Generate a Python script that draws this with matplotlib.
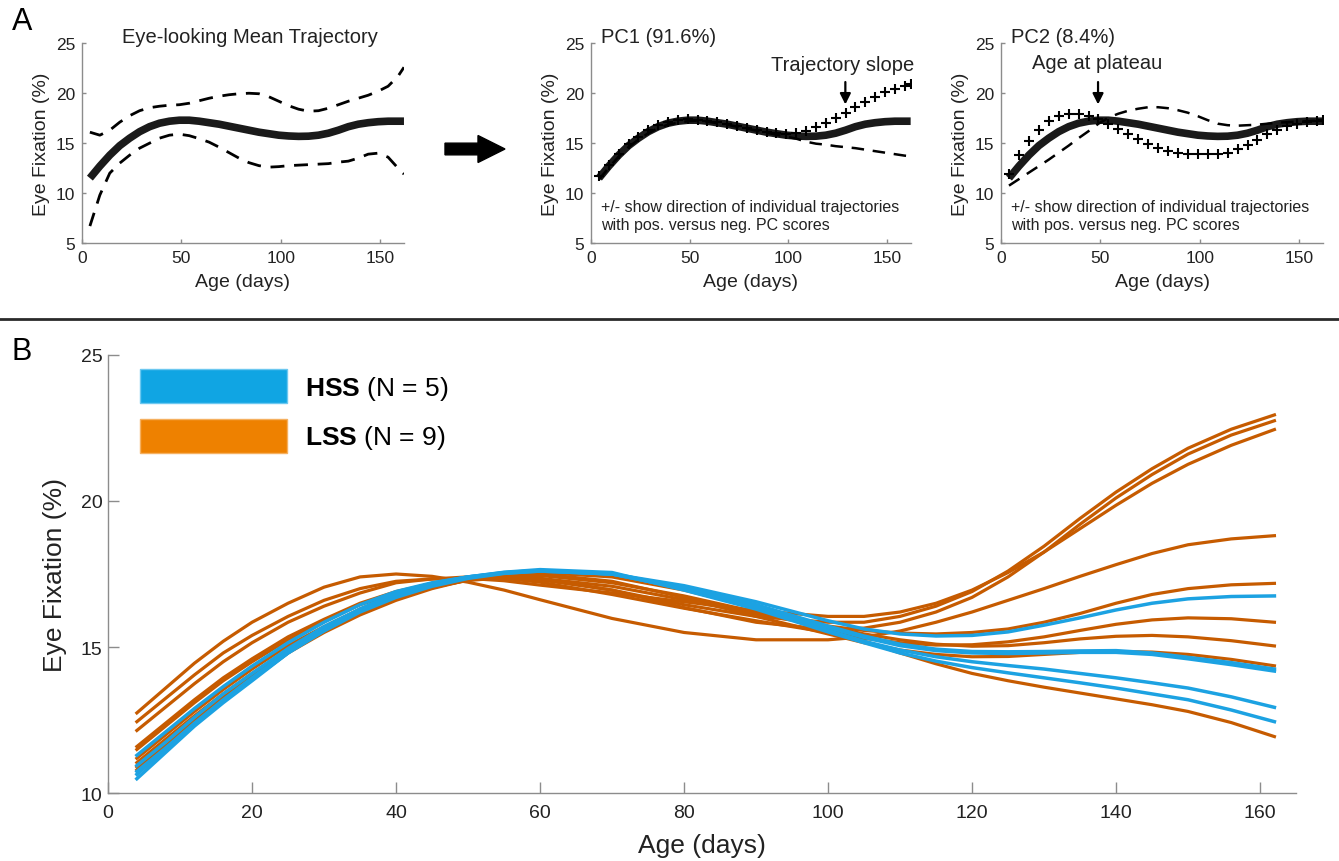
import numpy as np
import matplotlib.pyplot as plt
from matplotlib.patches import Patch, FancyArrow
from matplotlib.lines import Line2D

plt.rcParams['font.family'] = ['Liberation Sans', 'DejaVu Sans']
plt.rcParams['mathtext.fontset'] = 'custom'
plt.rcParams['mathtext.rm'] = 'Liberation Sans'
plt.rcParams['mathtext.bf'] = 'Liberation Sans:bold'

# ---------------- panel A: mean trajectory and PC curves ----------------
age_a = [4, 9, 14, 19, 24, 29, 34, 39, 44, 49, 54, 59, 64, 69, 74, 79, 84,
         89, 94, 99, 104, 109, 114, 119, 124, 129, 134, 139, 144, 149, 154, 159, 162]

mean_traj = [11.5, 12.7, 13.8, 14.75, 15.5, 16.15, 16.65, 17.0, 17.2, 17.3, 17.3,
             17.2, 17.05, 16.9, 16.7, 16.5, 16.3, 16.1, 15.95, 15.8, 15.72, 15.68,
             15.7, 15.8, 16.0, 16.3, 16.65, 16.9, 17.05, 17.15, 17.2, 17.2, 17.2]
upper_ci = [16.1, 15.8, 16.3, 17.1, 17.75, 18.25, 18.55, 18.7, 18.8, 18.85, 19.0,
            19.25, 19.5, 19.7, 19.85, 19.95, 20.0, 19.95, 19.65, 19.2, 18.75, 18.4,
            18.2, 18.25, 18.5, 18.85, 19.2, 19.5, 19.8, 20.2, 20.7, 21.7, 22.6]
lower_ci = [6.7, 9.8, 12.0, 13.0, 13.8, 14.5, 15.0, 15.5, 15.8, 15.9, 15.75,
            15.45, 15.1, 14.6, 14.05, 13.5, 13.05, 12.75, 12.6, 12.65, 12.75, 12.8,
            12.85, 12.9, 12.95, 13.1, 13.2, 13.5, 13.9, 14.0, 13.6, 12.5, 11.9]

pc1_plus = [11.7, 12.85, 13.95, 14.9, 15.65, 16.3, 16.8, 17.15, 17.35, 17.4, 17.35,
            17.25, 17.1, 16.95, 16.75, 16.55, 16.35, 16.15, 16.0, 15.95, 16.0, 16.2,
            16.6, 17.05, 17.55, 18.05, 18.6, 19.15, 19.65, 20.1, 20.45, 20.75, 20.9]
pc1_minus = [11.35, 12.55, 13.65, 14.6, 15.35, 16.0, 16.5, 16.85, 17.05, 17.2, 17.25,
             17.15, 17.0, 16.85, 16.65, 16.45, 16.25, 16.05, 15.85, 15.65, 15.45, 15.15,
             14.95, 14.85, 14.7, 14.6, 14.5, 14.35, 14.2, 14.05, 13.9, 13.75, 13.7]

pc2_plus = [11.9, 13.85, 15.2, 16.3, 17.2, 17.7, 17.9, 17.9, 17.7, 17.4, 16.9,
            16.4, 15.9, 15.4, 14.95, 14.55, 14.25, 14.05, 13.95, 13.9, 13.9, 13.9,
            14.05, 14.4, 14.85, 15.35, 15.9, 16.35, 16.7, 16.95, 17.15, 17.25, 17.3]
pc2_minus = [10.75, 11.4, 12.05, 12.7, 13.35, 14.05, 14.75, 15.5, 16.2, 16.95, 17.55,
             17.95, 18.25, 18.45, 18.6, 18.6, 18.5, 18.3, 18.05, 17.7, 17.3, 16.95,
             16.8, 16.75, 16.8, 16.85, 16.95, 17.05, 17.1, 17.15, 17.2, 17.25, 17.3]

# ---------------- panel B: individual trajectories ----------------
age_b = [4, 8, 12, 16, 20, 25, 30, 35, 40, 45, 50, 55, 60, 70, 80, 90, 100, 105,
         110, 115, 120, 125, 130, 135, 140, 145, 150, 156, 162]

lss_curves = [
    [12.75, 13.6, 14.45, 15.2, 15.85, 16.5, 17.05, 17.4, 17.5, 17.42, 17.22, 16.95,
     16.62, 15.98, 15.5, 15.25, 15.25, 15.35, 15.55, 15.85, 16.2, 16.6, 17.0, 17.42,
     17.82, 18.2, 18.5, 18.7, 18.81],
    [12.45, 13.25, 14.05, 14.8, 15.4, 16.05, 16.6, 17.0, 17.25, 17.33, 17.35, 17.27,
     17.12, 16.85, 16.55, 16.25, 16.05, 16.05, 16.2, 16.5, 16.95, 17.55, 18.25, 19.05,
     19.85, 20.6, 21.25, 21.9, 22.44],
    [12.15, 12.95, 13.75, 14.5, 15.15, 15.85, 16.4, 16.85, 17.2, 17.33, 17.4, 17.35,
     17.22, 16.8, 16.33, 15.9, 15.5, 15.3, 15.15, 15.07, 15.08, 15.18, 15.35, 15.57,
     15.78, 15.93, 16.0, 15.97, 15.85],
    [11.6, 12.4, 13.2, 13.95, 14.6, 15.35, 15.95, 16.5, 16.9, 17.17, 17.35, 17.38,
     17.3, 16.95, 16.45, 16.05, 15.85, 15.85, 16.05, 16.4, 16.9, 17.6, 18.45, 19.4,
     20.3, 21.1, 21.8, 22.45, 22.94],
    [11.5, 12.3, 13.1, 13.85, 14.5, 15.25, 15.9, 16.45, 16.85, 17.12, 17.3, 17.37,
     17.35, 17.08, 16.62, 16.12, 15.72, 15.57, 15.48, 15.45, 15.5, 15.62, 15.85, 16.15,
     16.5, 16.8, 17.0, 17.13, 17.18],
    [11.2, 12.0, 12.8, 13.55, 14.25, 15.05, 15.7, 16.3, 16.75, 17.08, 17.3, 17.42,
     17.45, 17.2, 16.75, 16.2, 15.7, 15.45, 15.25, 15.1, 15.03, 15.05, 15.15, 15.28,
     15.37, 15.4, 15.35, 15.22, 15.04],
    [11.05, 11.85, 12.65, 13.4, 14.1, 14.9, 15.6, 16.2, 16.7, 17.05, 17.28, 17.37,
     17.35, 16.95, 16.35, 15.85, 15.6, 15.65, 15.85, 16.2, 16.7, 17.4, 18.25, 19.2,
     20.1, 20.9, 21.6, 22.25, 22.74],
    [10.9, 11.7, 12.5, 13.3, 14.0, 14.85, 15.55, 16.15, 16.65, 17.03, 17.3, 17.45,
     17.5, 17.25, 16.7, 16.05, 15.45, 15.15, 14.9, 14.75, 14.67, 14.68, 14.75, 14.82,
     14.85, 14.83, 14.75, 14.58, 14.36],
    [10.8, 11.6, 12.4, 13.2, 13.9, 14.8, 15.5, 16.1, 16.6, 17.0, 17.3, 17.48,
     17.55, 17.4, 16.95, 16.35, 15.6, 15.2, 14.8, 14.43, 14.1, 13.85, 13.63, 13.43,
     13.23, 13.03, 12.8, 12.42, 11.94],
]
hss_curves = [
    [11.3, 12.1, 12.9, 13.65, 14.35, 15.15, 15.85, 16.45, 16.9, 17.2, 17.4, 17.53,
     17.6, 17.5, 17.1, 16.55, 15.9, 15.62, 15.45, 15.38, 15.4, 15.52, 15.75, 16.0,
     16.27, 16.5, 16.65, 16.73, 16.75],
    [10.95, 11.75, 12.6, 13.4, 14.1, 14.95, 15.7, 16.3, 16.8, 17.15, 17.4, 17.55,
     17.62, 17.5, 17.05, 16.45, 15.72, 15.38, 15.1, 14.93, 14.85, 14.84, 14.85, 14.87,
     14.88, 14.8, 14.65, 14.47, 14.25],
    [10.75, 11.55, 12.4, 13.2, 13.95, 14.85, 15.6, 16.25, 16.75, 17.12, 17.38, 17.54,
     17.62, 17.5, 17.0, 16.4, 15.67, 15.33, 15.05, 14.88, 14.8, 14.78, 14.8, 14.82,
     14.82, 14.75, 14.6, 14.4, 14.18],
    [10.65, 11.5, 12.35, 13.15, 13.9, 14.8, 15.55, 16.2, 16.7, 17.08, 17.35, 17.52,
     17.6, 17.5, 17.0, 16.35, 15.57, 15.2, 14.9, 14.67, 14.5, 14.37, 14.25, 14.1,
     13.95, 13.78, 13.6, 13.3, 12.94],
    [10.5, 11.4, 12.3, 13.1, 13.85, 14.8, 15.6, 16.3, 16.85, 17.18, 17.4, 17.56,
     17.65, 17.55, 16.95, 16.3, 15.52, 15.15, 14.8, 14.52, 14.3, 14.12, 13.95, 13.78,
     13.6, 13.4, 13.2, 12.85, 12.45],
]

group_labels = [r'$\mathbf{HSS}$ (N = 5)', r'$\mathbf{LSS}$ (N = 9)']

HSS_LINE = '#1ca2e2'
LSS_LINE = '#c65b00'
HSS_PATCH = '#10a5e3'
LSS_PATCH = '#ee8100'
SPINE = '#8c8c8c'
TXT = '#222222'


def style(ax, labelsize, ticklen, pad):
    for s in ['top', 'right']:
        ax.spines[s].set_visible(False)
    for s in ['left', 'bottom']:
        ax.spines[s].set_color(SPINE)
        ax.spines[s].set_linewidth(1.0)
    ax.tick_params(direction='in', length=ticklen, width=1.0, color=SPINE,
                   labelsize=labelsize, labelcolor=TXT, pad=pad)


def top_axes(rect):
    ax = fig.add_axes(rect)
    ax.set_xlim(0, 162)
    ax.set_ylim(5, 25)
    ax.set_xticks([0, 50, 100, 150])
    ax.set_yticks([5, 10, 15, 20, 25])
    style(ax, 12.5, 3, 5)
    ax.set_xlabel('Age (days)', fontsize=14, color=TXT, labelpad=6)
    ax.set_ylabel('Eye Fixation (%)', fontsize=14, color=TXT, labelpad=4)
    return ax


fig = plt.figure(figsize=(13.39, 8.62), dpi=100)

# A1: mean trajectory
ax1 = top_axes([0.0612, 0.7169, 0.2405, 0.2317])
ax1.plot(age_a, upper_ci, color='k', lw=2, dashes=(5, 3.5))
ax1.plot(age_a, lower_ci, color='k', lw=2, dashes=(5, 3.5))
ax1.plot(age_a, mean_traj, color='#1a1a1a', lw=5.5, solid_capstyle='butt')
ax1.text(20, 25.7, 'Eye-looking Mean Trajectory', fontsize=14.5, color=TXT,
         ha='left', va='center', clip_on=False)

note = '+/- show direction of individual trajectories\nwith pos. versus neg. PC scores'

# A2: PC1
ax2 = top_axes([0.4414, 0.7169, 0.2387, 0.2317])
ax2.plot(age_a, mean_traj, color='#1a1a1a', lw=5.5, solid_capstyle='butt', zorder=2)
ax2.plot(age_a, pc1_minus, color='k', lw=1.8, dashes=(5, 3.5), zorder=3)
ax2.plot(age_a, pc1_plus, ls='none', marker='+', ms=6.5, mew=1.5, color='k', zorder=4)
ax2.text(5, 25.7, 'PC1 (91.6%)', fontsize=14.5, color=TXT, ha='left', va='center',
         clip_on=False)
ax2.text(5, 7.75, note, fontsize=11.5, color=TXT, ha='left', va='center',
         linespacing=1.2)
ax2.annotate('', xy=(128.9, 18.6), xytext=(128.9, 21.4),
             arrowprops=dict(arrowstyle='-|>', color='k', lw=1.6, mutation_scale=16))
ax2.text(127.5, 22.9, 'Trajectory slope', fontsize=14.5, color=TXT, ha='center',
         va='center', clip_on=False)

# A3: PC2
ax3 = top_axes([0.7476, 0.7169, 0.2405, 0.2317])
ax3.plot(age_a, mean_traj, color='#1a1a1a', lw=5.5, solid_capstyle='butt', zorder=2)
ax3.plot(age_a, pc2_minus, color='k', lw=1.8, dashes=(5, 3.5), zorder=3)
ax3.plot(age_a, pc2_plus, ls='none', marker='+', ms=6.5, mew=1.5, color='k', zorder=4)
ax3.text(5, 25.7, 'PC2 (8.4%)', fontsize=14.5, color=TXT, ha='left', va='center',
         clip_on=False)
ax3.text(5, 7.75, note, fontsize=11.5, color=TXT, ha='left', va='center',
         linespacing=1.2)
ax3.annotate('', xy=(48.8, 18.6), xytext=(48.8, 21.4),
             arrowprops=dict(arrowstyle='-|>', color='k', lw=1.6, mutation_scale=16))
ax3.text(48.3, 23.1, 'Age at plateau', fontsize=14.5, color=TXT, ha='center',
         va='center', clip_on=False)

# big arrow between panels
fig.patches.append(FancyArrow(4.45, 7.12, 0.60, 0, width=0.117, head_width=0.27,
                              head_length=0.27, length_includes_head=True,
                              color='k', transform=fig.dpi_scale_trans, figure=fig))

# separator line
fig.add_artist(Line2D([0, 1], [0.6288, 0.6288], transform=fig.transFigure,
                      color='#2a2a2a', lw=2))

fig.text(12 / 1339, 1 - 22 / 862, 'A', fontsize=22, ha='left', va='center', color='k')
fig.text(12 / 1339, 1 - 352 / 862, 'B', fontsize=22, ha='left', va='center', color='k')

# B: individual trajectories
axb = fig.add_axes([0.0807, 0.0785, 0.8872, 0.5089])
for c in lss_curves:
    axb.plot(age_b, c, color=LSS_LINE, lw=2.3)
for c in hss_curves:
    axb.plot(age_b, c, color=HSS_LINE, lw=2.5)
axb.set_xlim(0, 165)
axb.set_ylim(10, 25)
axb.set_xticks(np.arange(0, 161, 20))
axb.set_yticks([10, 15, 20, 25])
style(axb, 14, 8, 4)
axb.tick_params(axis='x', pad=8)
axb.set_xlabel('Age (days)', fontsize=19, color=TXT, labelpad=8)
axb.set_ylabel('Eye Fixation (%)', fontsize=19, color=TXT, labelpad=10)

handles = [Patch(facecolor=HSS_PATCH, edgecolor='#6cc8f0', lw=1),
           Patch(facecolor=LSS_PATCH, edgecolor='#f5b060', lw=1)]
axb.legend(handles, group_labels, loc='upper left', bbox_to_anchor=(0.0269, 0.967),
           frameon=False, fontsize=19, handlelength=5.57, handleheight=1.6,
           handletextpad=0.68, labelspacing=0.6, borderpad=0, borderaxespad=0)

fig.savefig('out.png', dpi=100)
